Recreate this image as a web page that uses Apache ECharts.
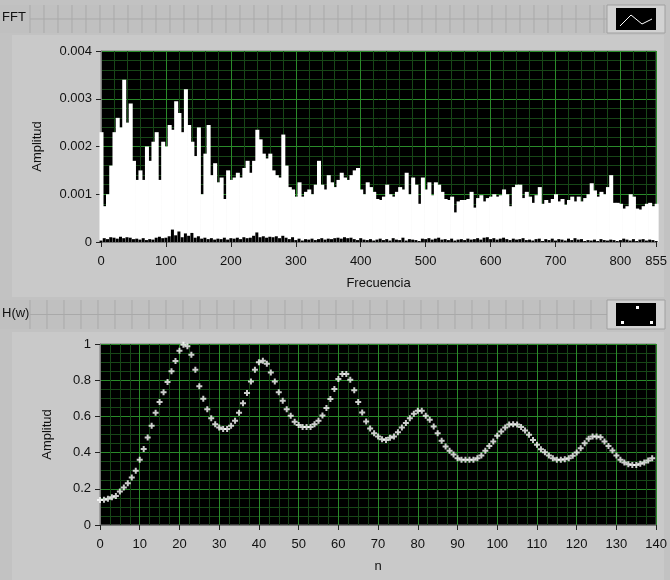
<!DOCTYPE html>
<html>
<head>
<meta charset="utf-8">
<script src="https://cdn.jsdelivr.net/npm/echarts@6/dist/echarts.min.js"></script>
<style>
  html, body { margin: 0; padding: 0; background: #c2c2c2; }
  #wrap { position: relative; width: 670px; height: 580px; }
  .panel { position: absolute; background: #c9c9c9; }
  #chart { position: absolute; left: 0; top: 0; width: 670px; height: 580px; }
</style>
</head>
<body>
<div id="wrap">
  <div class="panel" style="left:12px;top:35px;width:652px;height:262px"></div>
  <div class="panel" style="left:12px;top:332px;width:652px;height:248px"></div>
  <div id="chart"></div>
</div>
<script>
// FFT spectrum, one value every 5 Hz from 0 to 855 (amplitude x 1e-3)
var fftStep = 5;
var fftAmp = [
  2.3, 0.75, 1.0, 1.6, 2.3, 2.6, 2.4, 3.4, 2.5, 2.9,
  1.7, 1.3, 1.5, 1.3, 2.0, 1.7, 2.1, 2.3, 1.3, 2.1,
  2.0, 2.45, 2.35, 2.95, 2.7, 2.3, 3.2, 2.45, 2.1, 1.8,
  2.4, 1.0, 1.85, 2.45, 1.4, 1.65, 1.25, 1.35, 0.9, 1.5,
  1.3, 1.35, 1.45, 1.35, 1.55, 1.7, 1.45, 1.7, 2.35, 2.15,
  1.85, 1.75, 1.85, 1.5, 1.4, 1.35, 2.25, 1.6, 1.15, 1.1,
  0.95, 1.25, 0.95, 1.05, 1.1, 1.0, 1.2, 1.7, 1.2, 1.1,
  1.4, 1.25, 1.15, 1.3, 1.45, 1.35, 1.3, 1.4, 1.5, 1.55,
  1.1, 1.0, 1.25, 1.15, 1.05, 0.9, 0.88, 0.95, 1.2, 1.0,
  0.95, 1.05, 1.15, 1.1, 1.45, 1.0, 1.35, 1.2, 0.8, 1.35,
  1.1, 1.25, 0.98, 1.25, 1.2, 1.05, 0.9, 0.88, 0.95, 0.62,
  0.85, 0.88, 0.88, 0.9, 1.05, 0.72, 0.92, 0.98, 0.85, 0.92,
  0.95, 1.0, 0.95, 0.98, 1.1, 1.0, 0.75, 1.15, 1.2, 1.2,
  0.92, 1.05, 0.95, 0.82, 0.98, 1.15, 0.8, 0.88, 0.82, 0.9,
  1.0, 0.85, 0.9, 0.78, 0.88, 0.95, 0.85, 0.95, 0.85, 0.92,
  1.0, 1.23, 1.08, 0.95, 1.05, 1.0, 1.15, 1.4, 0.82, 0.82,
  0.8, 0.7, 0.75, 1.0, 0.95, 0.7, 0.68, 0.75, 0.8, 0.82,
  0.75, 0.8
];
// low black trace under the spectrum (amplitude x 1e-4)
var fftLow = [
  0.3, 0.8, 0.6, 1.0, 0.9, 0.7, 1.1, 0.8, 1.0, 0.9,
  0.6, 0.7, 0.5, 0.8, 0.4, 0.6, 0.5, 0.9, 1.1, 0.8,
  0.9, 1.2, 2.6, 1.4, 2.2, 1.0, 1.8, 1.3, 1.9, 0.9,
  1.2, 0.7, 0.9, 0.6, 0.8, 0.5, 0.7, 0.6, 0.9, 0.5,
  0.8, 0.7, 0.9, 0.6, 1.0, 0.8, 0.9, 1.3, 2.0, 1.0,
  1.2, 0.9, 1.1, 1.0, 1.2, 0.8, 1.3, 0.9, 0.6, 1.0,
  0.4, 0.7, 0.3, 0.6, 0.5, 0.7, 0.4, 0.6, 0.8, 0.5,
  0.7, 0.6, 0.8, 0.9, 0.7, 1.0, 0.8, 0.9, 0.6, 0.4,
  0.8, 0.5, 0.4, 0.6, 0.3, 0.5, 0.7, 0.4, 0.6, 0.3,
  0.8, 0.5, 0.4, 0.9, 0.3, 0.6, 0.5, 0.4, 0.2, 0.7,
  0.6, 0.8, 0.5, 0.7, 0.9, 0.5, 0.6, 0.4, 0.7, 0.3,
  0.5, 0.6, 0.4, 0.7, 0.5, 0.6, 0.8, 0.5, 0.9, 1.0,
  0.6, 0.8, 0.5, 0.7, 0.9, 0.6, 0.4, 0.7, 0.5, 0.6,
  0.8, 0.4, 0.5, 0.3, 0.6, 0.7, 0.2, 0.6, 0.4, 0.7,
  0.3, 0.6, 0.5, 0.3, 0.7, 0.4, 0.8, 0.5, 0.6, 0.2,
  0.4, 0.3, 0.5, 0.2, 0.6, 0.4, 0.3, 0.5, 0.4, 0.2,
  0.4, 0.7, 0.5, 0.3, 0.6, 0.2, 0.5, 0.6, 0.3, 0.5,
  0.4, 0.2
];
// H(w), one point per n = 0..139
var hw = [
  0.138, 0.14, 0.145, 0.153, 0.16, 0.185, 0.207, 0.23, 0.262, 0.30,
  0.36, 0.42, 0.483, 0.548, 0.62, 0.68, 0.734, 0.79, 0.85, 0.906,
  0.963, 0.996, 0.987, 0.94, 0.858, 0.766, 0.697, 0.64, 0.59, 0.557,
  0.539, 0.53, 0.53, 0.548, 0.576, 0.62, 0.673, 0.729, 0.793, 0.858,
  0.899, 0.908, 0.891, 0.843, 0.793, 0.734, 0.686, 0.64, 0.603, 0.57,
  0.553, 0.541, 0.541, 0.541, 0.557, 0.576, 0.605, 0.646, 0.696, 0.751,
  0.806, 0.834, 0.834, 0.803, 0.744, 0.679, 0.622, 0.572, 0.533, 0.507,
  0.489, 0.474, 0.47, 0.482, 0.489, 0.513, 0.539, 0.563, 0.59, 0.614,
  0.631, 0.631, 0.603, 0.581, 0.544, 0.507, 0.465, 0.434, 0.41, 0.39,
  0.369, 0.36, 0.36, 0.36, 0.36, 0.369, 0.384, 0.41, 0.437, 0.461,
  0.493, 0.517, 0.539, 0.555, 0.557, 0.555, 0.541, 0.522, 0.498, 0.47,
  0.443, 0.419, 0.402, 0.384, 0.369, 0.36, 0.36, 0.363, 0.369, 0.382,
  0.4, 0.424, 0.452, 0.476, 0.489, 0.489, 0.485, 0.461, 0.437, 0.411,
  0.384, 0.36, 0.345, 0.336, 0.332, 0.332, 0.338, 0.345, 0.356, 0.369
];

var fftTop = [], fftBottom = [], hwPts = [];
for (var i = 0; i < fftAmp.length; i++) {
  fftTop.push([i * fftStep, fftAmp[i] * 1e-3]);
  fftBottom.push([i * fftStep, fftLow[i] * 1e-4]);
}
for (var n = 0; n < hw.length; n++) hwPts.push([n, hw[n]]);

var font = 'Liberation Sans';
var major = '#2a8a2a';
var minor = '#174617';

function axisCommon(extra) {
  var a = {
    type: 'value',
    axisLine: { show: true, onZero: false, lineStyle: { color: '#7a7a7a' } },
    axisTick: { show: true, length: 5, lineStyle: { color: '#222' } },
    axisLabel: { color: '#111', fontFamily: font, fontSize: 13, margin: 9 },
    splitLine: { show: true, lineStyle: { color: major, width: 1 } },
    minorTick: { show: false, splitNumber: 5 },
    minorSplitLine: { show: true, lineStyle: { color: minor, width: 1 } },
    nameTextStyle: { color: '#111', fontFamily: font, fontSize: 13 }
  };
  for (var k in extra) a[k] = extra[k];
  return a;
}

// header strips with the LabVIEW palette pattern
var deco = [];
function header(y, h, label, cell) {
  deco.push({ type: 'rect', shape: { x: 0, y: y, width: 607, height: h },
    style: { fill: '#c0c0c0' }, silent: true });
  for (var x = 30; x < 607; x += cell) {
    deco.push({ type: 'line', shape: { x1: x, y1: y, x2: x, y2: y + h },
      style: { stroke: '#a9a9a9', lineWidth: 1 }, silent: true });
  }
  deco.push({ type: 'line', shape: { x1: 30, y1: y + h / 2, x2: 607, y2: y + h / 2 },
    style: { stroke: '#a9a9a9', lineWidth: 1 }, silent: true });
  deco.push({ type: 'rect', shape: { x: 607, y: y, width: 58, height: h },
    style: { fill: '#d2d2d2', stroke: '#a0a0a0' }, silent: true });
  deco.push({ type: 'rect', shape: { x: 616, y: y + 3, width: 40, height: h - 6 },
    style: { fill: '#000' }, silent: true });
  deco.push({ type: 'text', left: 2, top: y + h / 2 - 8,
    style: { text: label, fill: '#111', font: '13px ' + font }, silent: true });
}
header(5, 28, 'FFT', 14);
header(300, 29, 'H(w)', 17);
// legend icons
deco.push({ type: 'polyline', shape: { points: [[620, 26], [631, 15], [642, 24], [652, 19]] },
  style: { stroke: '#fff', lineWidth: 1, fill: null }, silent: true });
[[622, 322], [637, 307], [651, 322]].forEach(function (p) {
  deco.push({ type: 'rect', shape: { x: p[0] - 1, y: p[1] - 1, width: 3, height: 3 },
    style: { fill: '#fff' }, silent: true });
});

var chart = echarts.init(document.getElementById('chart'));
chart.setOption({
  backgroundColor: 'transparent',
  animation: false,
  graphic: { elements: deco },
  grid: [
    { left: 101, top: 51, width: 560, height: 191, show: true,
      backgroundColor: '#000', borderColor: '#7a7a7a', borderWidth: 1 },
    { left: 100, top: 344, width: 560, height: 181, show: true,
      backgroundColor: '#000', borderColor: '#7a7a7a', borderWidth: 1 }
  ],
  xAxis: [
    axisCommon({ gridIndex: 0, min: 0, max: 855, interval: 100,
      axisLabel: { color: '#111', fontFamily: font, fontSize: 13, margin: 13 },
      name: 'Frecuencia', nameLocation: 'middle', nameGap: 35 }),
    axisCommon({ gridIndex: 1, min: 0, max: 140, interval: 10,
      axisLabel: { color: '#111', fontFamily: font, fontSize: 13, margin: 13 },
      minorTick: { show: false, splitNumber: 4 },
      name: 'n', nameLocation: 'middle', nameGap: 35 })
  ],
  yAxis: [
    axisCommon({ gridIndex: 0, min: 0, max: 0.004, interval: 0.001,
      name: 'Amplitud', nameLocation: 'middle', nameGap: 57 }),
    axisCommon({ gridIndex: 1, min: 0, max: 1, interval: 0.2,
      minorTick: { show: false, splitNumber: 4 },
      name: 'Amplitud', nameLocation: 'middle', nameGap: 46 })
  ],
  series: [
    { type: 'bar', xAxisIndex: 0, yAxisIndex: 0, data: fftTop,
      barWidth: 4, itemStyle: { color: '#ffffff' }, silent: true },
    { type: 'bar', xAxisIndex: 0, yAxisIndex: 0, data: fftBottom,
      barWidth: 3, barGap: '-100%', itemStyle: { color: '#000' }, silent: true },
    { type: 'scatter', xAxisIndex: 1, yAxisIndex: 1, data: hwPts,
      symbol: 'path://M2,0H4V2H6V4H4V6H2V4H0V2H2Z', symbolSize: 6,
      itemStyle: { color: '#ffffff' }, silent: true }
  ]
});
</script>
</body>
</html>
